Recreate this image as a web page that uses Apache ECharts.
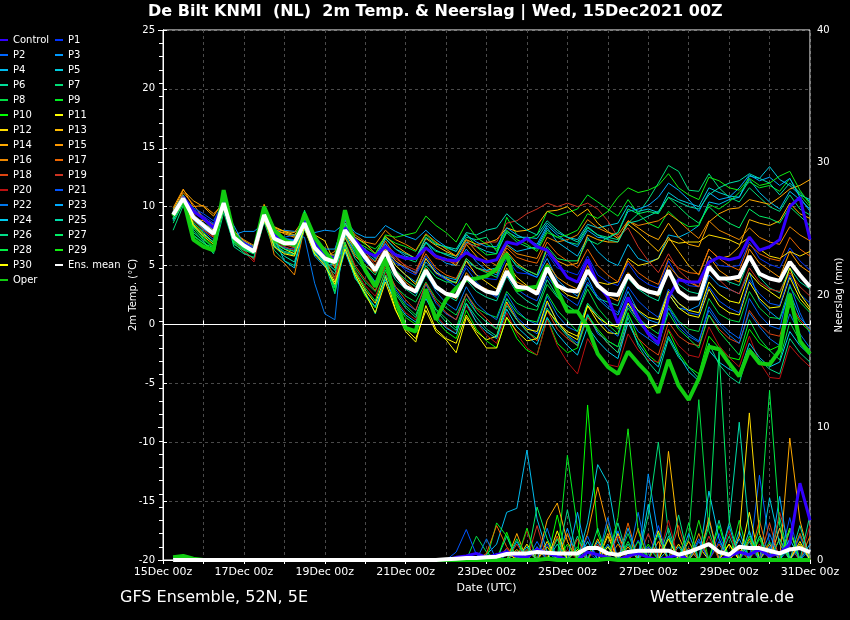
<!DOCTYPE html>
<html><head><meta charset="utf-8">
<script src="https://cdn.jsdelivr.net/npm/echarts/dist/echarts.min.js"></script>
<style>html,body{margin:0;padding:0;background:#000;}#c{width:850px;height:620px;}</style>
</head><body><div id="c"></div>
<script>
// ---- time steps (hours after 15Dec2021 00Z) and tick labels ----
const hours = [6,12,18,24,30,36,42,48,54,60,66,72,78,84,90,96,102,108,114,120,126,132,138,144,150,156,162,168,174,180,186,192,198,204,210,216,222,228,234,240,246,252,258,264,270,276,282,288,294,300,306,312,318,324,330,336,342,348,354,360,366,372,378,384];
const xTickLabels = ['15Dec 00z','17Dec 00z','19Dec 00z','21Dec 00z','23Dec 00z','25Dec 00z','27Dec 00z','29Dec 00z','31Dec 00z'];

// ---- 2m temperature (°C) ----
const tMean = [9.3,10.7,9.1,8.4,7.7,10.3,7.4,6.7,6.2,9.3,7.3,6.9,6.9,8.6,6.5,5.6, 5.3,8.0,6.9,5.7,4.6,6.2,4.3,3.2,2.8,4.6,3.2,2.6,2.4,4.05,3.3,2.8, 2.6,4.5,3.2,3.1,2.6,4.8,3.3,2.9,2.8,4.6,3.3,2.6,2.5,4.2,3.2,2.8, 2.6,4.6,2.8,2.2,2.2,4.9,3.9,3.9,4.05,5.8,4.3,3.9,3.7,5.3,4.2,3.2];
const tOper = [9.2,10.7,7.2,6.6,6.3,11.4,7.7,6.7,6.2,10.0,8.0,7.2,6.7,9.4,7.4,6.2, 5.2,9.7,6.6,4.6,3.2,5.6,2.0,-0.3,-0.6,3.0,0.4,2.1,3.1,3.8,3.9,4.1, 4.7,6.0,2.9,3.1,3.2,5.0,2.9,1.1,1.1,-0.2,-2.5,-3.6,-4.2,-2.3,-3.3,-4.2, -5.8,-3.0,-5.2,-6.4,-4.6,-1.9,-2.1,-3.3,-4.4,-2.2,-3.3,-3.4,-2.2,2.6,-1.4,-2.5];
const tControl = [9.3,10.8,9.6,9.0,8.2,10.4,7.6,6.9,6.3,9.4,7.6,7.0,6.8,8.8,7.0,6.0, 5.6,8.2,7.2,6.2,5.8,6.6,5.9,5.6,5.6,6.5,5.8,5.5,5.4,6.1,5.6,5.3, 5.5,7.0,6.8,7.3,6.6,6.3,5.2,4.0,3.6,5.5,3.4,2.3,0.1,2.3,0.6,-0.8, -1.6,2.3,3.8,3.6,3.6,5.3,5.7,5.5,5.7,7.4,6.3,6.6,7.2,10.0,10.8,7.2];
const tP1 = [9.6,10.9,9.8,9.2,8.6,10.4,7.8,6.9,6.3,9.1,7.8,7.2,6.9,8.4,6.8,6.0, 5.8,8.4,7.2,6.4,5.6,6.9,5.4,4.6,4.2,5.6,4.3,3.8,3.6,5.0,4.2,3.9, 3.8,5.6,4.4,4.3,4.0,6.0,4.8,4.5,4.2,5.8,4.2,3.6,3.3,5.2,4.0,3.4, 3.1,5.4,3.9,3.3,3.2,5.8,5.0,4.9,5.0,7.0,5.6,5.1,4.8,6.5,5.4,4.6];
const tP2 = [9.0,10.5,8.6,7.9,7.2,10.1,7.0,6.5,6.0,9.0,7.0,6.5,6.4,8.9,6.2,5.4, 4.6,7.6,6.0,4.8,3.6,5.2,3.0,1.8,1.2,3.4,1.8,0.9,0.4,2.6,1.0,0.2, -0.3,2.2,0.6,-0.2,-0.8,1.8,0.3,-0.9,-1.6,0.9,-0.8,-1.4,-1.9,0.8,-0.6,-1.2, -1.8,1.4,-0.2,-1.0,-1.5,1.5,0.2,-0.6,-1.2,2.2,0.8,-0.1,-0.4,3.4,1.0,-0.8];
const tP3 = [9.4,10.8,9.5,9.0,8.5,9.8,7.6,7.9,7.9,8.6,7.9,8.0,7.9,8.0,7.8,8.0, 7.9,8.6,7.0,6.3,5.8,7.3,6.4,5.8,5.5,7.0,5.8,5.2,5.0,6.4,5.3,4.6, 4.2,6.1,4.9,4.4,4.0,5.6,3.8,3.0,2.4,4.0,2.2,1.4,0.8,2.8,1.1,0.4, 0.1,2.6,1.4,1.2,1.6,4.2,3.3,3.0,2.6,4.4,2.0,1.1,0.4,2.7,0.6,-0.4];
const tP4 = [8.8,10.4,9.2,8.2,7.5,10.6,7.6,6.8,6.1,9.5,7.4,6.6,6.2,8.2,5.8,4.9, 5.2,8.2,6.6,5.5,4.8,6.6,5.0,4.2,3.6,5.3,4.4,4.0,3.8,5.4,4.8,4.6, 4.8,6.8,6.2,6.4,6.6,8.2,7.0,6.4,5.8,7.4,6.2,5.4,5.0,6.8,5.6,5.3, 5.6,7.6,7.4,7.8,8.4,10.4,10.2,10.6,10.8,12.3,11.2,10.4,9.8,11.3,10.6,9.8];
const tP5 = [9.8,11.0,9.6,8.9,8.0,10.0,7.2,6.4,6.0,9.0,7.9,7.0,6.6,8.8,6.4,5.9, 5.6,8.2,6.9,6.1,5.4,6.8,6.0,5.7,5.6,7.0,6.3,5.9,5.6,7.0,6.6,6.2, 6.0,7.9,7.4,7.4,7.3,8.6,7.8,7.4,7.2,8.5,8.2,8.4,8.6,10.1,9.6,9.8, 9.5,11.2,10.6,10.3,10.0,11.6,11.2,10.9,10.8,12.6,12.4,13.4,12.3,11.8,11.0,10.6];
const tP6 = [9.1,10.6,8.2,7.3,6.4,9.9,7.1,6.5,6.3,9.8,6.8,6.2,6.0,9.0,6.0,5.2, 4.3,7.4,5.6,4.5,3.6,5.4,3.8,3.0,2.4,4.2,3.0,2.5,2.0,3.8,2.8,2.3, 2.0,4.1,2.7,2.0,1.5,3.8,2.4,1.6,1.0,3.4,2.2,1.9,1.6,3.9,3.0,2.4, 2.0,4.6,3.4,2.8,2.6,5.1,4.1,3.6,3.3,5.6,4.0,3.1,2.7,4.8,3.6,3.0];
const tP7 = [8.0,10.1,7.8,7.1,6.0,9.5,6.9,6.1,5.6,8.7,6.3,5.4,5.0,8.3,5.9,5.5, 5.0,8.2,6.4,5.6,5.0,6.6,5.8,5.6,5.3,6.9,6.2,6.0,5.8,7.4,7.2,7.4, 6.2,7.8,7.0,6.6,6.4,8.0,7.4,7.0,6.8,8.2,7.6,7.4,7.2,8.6,9.4,10.6, 12.0,13.5,13.0,11.4,11.3,12.8,11.6,10.8,10.4,11.6,10.8,10.0,9.6,11.0,9.8,9.3];
const tP8 = [9.5,10.9,9.0,8.3,7.6,10.8,7.5,6.7,6.4,9.6,7.6,7.2,7.0,9.2,6.9,5.8, 3.8,6.9,4.8,3.6,2.8,4.8,3.2,2.4,1.9,3.6,2.2,1.4,0.8,2.6,1.4,0.9, 0.6,2.8,1.8,1.4,1.2,3.4,2.3,1.6,1.0,3.0,1.4,0.4,-0.4,1.8,0.6,-0.2, -0.8,1.6,0.3,-0.4,-0.6,2.2,0.9,0.4,0.2,2.8,1.4,0.6,0.5,3.2,1.9,1.0];
const tP9 = [9.2,10.8,8.7,7.8,6.9,11.0,7.2,6.6,6.2,9.9,7.4,7.0,7.2,9.5,6.6,5.3, 5.4,9.0,7.4,6.8,6.4,7.4,6.9,6.6,6.2,7.6,6.9,6.5,6.2,7.7,6.6,5.9, 6.0,9.1,7.6,7.2,7.6,9.6,9.2,9.5,9.8,11.0,10.4,9.8,9.2,10.6,9.4,8.6, 8.2,9.6,8.8,8.3,8.4,10.2,9.8,10.4,11.2,12.1,11.6,11.8,11.3,12.4,11.0,10.0];
const tP10 = [9.0,10.6,8.4,7.4,6.6,10.7,7.3,6.6,6.3,9.4,7.1,6.7,6.8,9.6,7.0,5.6, 2.8,6.8,4.2,2.4,1.4,4.0,1.8,0.6,0.0,2.4,0.4,-0.6,-1.2,1.2,-0.4,-1.4, -2.0,0.6,-1.2,-2.2,-2.6,0.5,-1.6,-2.4,-2.0,0.8,-0.4,-1.4,-1.9,1.0,-1.2,-2.6, -3.3,-0.5,-2.4,-3.6,-4.2,-1.0,-2.0,-2.8,-3.0,-0.4,-1.6,-2.2,-1.8,1.6,0.2,-0.6];
const tP11 = [9.6,10.9,8.5,7.7,7.0,9.8,7.7,7.0,6.6,8.8,7.0,6.4,6.0,8.1,6.0,5.2, 3.6,6.8,4.4,2.9,1.8,4.1,1.3,-0.6,-1.5,1.6,-0.4,-1.2,-1.6,0.8,-0.6,-1.3, -1.0,1.9,0.4,-0.4,-0.6,2.0,0.2,-0.8,-1.3,1.6,0.2,-0.7,-0.8,1.8,0.4,-0.3, 0.0,2.6,1.4,0.8,0.6,3.0,1.6,1.0,0.8,3.6,2.2,1.4,1.5,4.0,2.2,1.2];
const tP12 = [9.3,10.4,9.3,8.6,8.0,10.2,7.9,7.1,6.6,9.0,8.3,7.9,7.6,8.7,7.6,7.1, 5.2,7.8,6.3,5.6,4.8,6.4,5.0,4.2,3.4,5.6,4.4,3.9,3.5,5.4,4.2,3.6, 3.0,5.2,4.0,3.3,2.8,4.6,3.2,2.5,2.2,4.4,3.6,3.4,3.6,5.6,5.0,5.2, 5.6,7.2,6.9,7.0,7.0,7.6,7.4,7.2,6.8,7.4,6.4,5.8,5.6,6.2,5.8,6.2];
const tP13 = [9.0,10.3,9.0,8.8,8.3,9.9,7.3,6.6,6.2,8.9,7.9,7.8,7.5,8.9,6.8,5.9, 5.9,8.6,7.4,6.9,6.0,7.5,6.7,6.1,5.6,7.3,6.7,6.2,5.8,7.2,6.8,6.9, 7.2,8.2,7.9,8.0,8.4,9.6,9.7,10.0,9.2,9.8,8.6,7.9,7.3,8.5,7.8,7.0, 6.2,7.4,6.2,5.0,4.2,6.4,5.6,5.8,6.6,8.9,8.6,8.4,8.8,10.3,9.4,9.0];
const tP14 = [9.7,11.4,10.5,10.0,9.2,10.5,8.0,7.0,6.5,10.2,8.2,7.9,7.8,9.0,7.0,6.3, 5.5,8.2,6.6,5.8,4.6,6.4,5.4,4.8,4.4,6.5,5.8,5.6,5.0,6.8,5.8,4.9, 4.4,6.2,5.2,4.6,4.2,6.4,5.4,5.0,5.2,7.6,7.2,7.0,7.0,8.8,8.2,7.6, 7.2,8.6,7.4,6.8,6.6,8.7,9.4,9.8,9.9,10.6,10.4,10.2,10.8,11.5,11.8,12.3];
const tP15 = [9.9,11.5,10.0,10.1,9.4,10.2,7.7,6.8,6.3,10.0,8.1,7.7,7.4,8.5,7.1,6.5, 4.8,7.4,5.8,5.0,4.4,5.9,4.6,3.6,2.9,4.8,3.2,2.6,2.2,4.4,3.4,3.0, 2.5,4.8,3.6,3.2,2.8,5.2,4.0,3.4,3.0,5.0,3.4,2.4,2.0,4.4,3.4,2.8, 2.4,5.0,4.0,3.6,3.2,5.8,4.6,4.0,3.6,6.4,5.2,4.6,4.0,6.2,5.0,4.4];
const tP16 = [9.4,11.2,10.2,9.0,8.2,10.6,7.8,7.2,6.7,9.5,5.9,5.2,4.2,8.3,6.6,5.7, 6.2,8.8,7.6,7.0,6.8,8.0,7.2,6.8,6.3,7.7,7.0,6.4,5.8,7.2,6.2,5.5, 5.0,6.7,6.0,5.8,5.6,7.4,7.0,7.2,7.6,8.9,8.2,7.8,7.6,8.8,8.4,8.6, 8.8,9.4,8.8,8.0,7.3,8.8,8.0,7.6,7.2,8.2,7.4,7.0,6.8,8.3,7.6,7.1];
const tP17 = [9.1,10.8,9.7,9.1,8.4,10.0,7.5,6.7,6.1,9.2,7.5,6.9,6.7,8.5,6.9,6.0, 5.0,7.9,6.6,5.9,5.3,7.1,5.8,4.9,4.3,6.0,4.8,4.2,3.9,5.6,4.8,4.5, 4.6,6.5,5.7,5.4,5.2,7.0,6.0,5.4,4.8,6.4,5.0,4.2,3.6,5.4,4.4,3.8, 3.4,5.6,4.8,4.4,4.3,6.4,5.6,5.0,4.6,6.8,6.0,5.6,5.4,7.4,6.4,5.8];
const tP18 = [9.2,10.5,8.9,8.0,7.4,10.3,7.3,6.6,6.0,9.3,7.2,6.8,6.5,8.4,6.3,5.5, 4.0,7.0,5.0,3.8,2.9,5.0,3.2,2.1,1.2,3.5,2.0,1.0,0.4,2.6,1.3,0.5, -0.4,1.8,0.4,-0.6,-1.4,1.2,-0.4,-1.2,-1.8,0.6,-0.6,-1.6,-2.4,0.1,-1.2,-2.0, -2.6,0.2,-1.0,-1.6,-1.8,0.8,-0.4,-1.2,-1.6,1.2,0.0,-0.8,-1.0,1.8,0.4,-0.5];
const tP19 = [9.5,10.7,9.4,8.5,7.8,10.1,7.0,6.3,5.5,9.1,7.3,6.9,6.8,8.3,6.5,5.8, 5.5,8.3,7.0,6.2,5.0,6.6,5.6,5.0,4.6,6.4,5.6,5.4,5.2,6.9,6.6,7.0, 7.0,8.6,8.8,9.4,9.8,10.3,10.0,10.3,10.0,10.3,9.8,8.8,7.4,8.2,6.6,5.4, 4.4,6.0,4.6,3.8,3.2,5.2,3.8,3.0,2.6,4.8,3.6,3.0,2.8,4.4,3.2,2.4];
const tP20 = [9.3,10.6,8.8,8.1,7.5,10.2,7.2,6.2,5.3,9.2,7.0,6.6,6.3,8.2,6.1,5.1, 3.8,6.6,4.6,3.3,2.4,4.4,2.2,1.0,0.4,2.6,0.8,-0.2,-0.8,1.6,0.2,-0.9, -1.6,1.0,-0.8,-2.0,-2.6,0.4,-1.8,-3.2,-4.2,-1.2,-2.6,-3.4,-3.6,-0.8,-2.2,-3.0, -3.2,-0.4,-1.8,-2.6,-2.8,-0.2,-1.8,-2.8,-3.6,-1.0,-3.2,-4.5,-4.6,-1.8,-2.8,-3.6];
const tP21 = [9.6,10.9,9.9,9.4,8.8,10.5,7.8,7.0,6.6,9.4,7.7,7.3,7.2,8.6,6.7,5.9, 5.1,7.6,6.2,5.3,4.6,6.2,5.2,4.8,4.4,5.8,4.6,3.8,3.2,4.8,3.6,2.8, 2.3,4.2,3.0,2.4,2.0,4.1,2.9,2.2,1.6,3.6,2.4,1.6,1.0,3.2,2.0,1.2, 0.6,3.0,1.8,1.0,0.8,3.2,2.0,1.4,1.0,3.8,2.6,1.8,1.6,4.2,2.6,1.8];
const tP22 = [9.4,10.7,9.3,8.6,7.9,10.4,7.6,6.9,6.5,9.3,7.6,7.4,7.6,7.4,3.5,0.9, 0.4,9.0,6.6,5.4,4.5,6.0,4.4,3.4,2.6,4.4,2.8,1.8,1.2,3.2,1.8,1.0, 0.4,2.6,1.2,0.4,0.0,2.4,0.8,-0.2,-0.6,1.8,0.6,-0.4,-1.0,1.6,0.4,-0.6, -1.2,1.4,0.2,-0.8,-1.4,1.2,0.0,-0.9,-1.6,1.0,-0.2,-1.2,-1.8,0.9,-0.8,-2.0];
const tP23 = [9.5,10.8,9.0,8.3,7.8,10.0,8.4,6.8,6.4,9.4,7.6,7.3,7.1,8.0,7.1,6.4, 6.4,8.9,7.8,7.4,7.4,8.4,7.9,7.5,7.2,8.0,7.2,6.6,6.2,7.6,7.0,6.6, 6.6,8.2,7.6,7.2,6.8,8.4,7.6,7.0,6.6,8.0,7.4,7.3,7.8,9.6,9.8,10.1, 10.8,12.0,11.4,10.6,9.6,11.2,10.6,10.8,11.6,12.7,12.2,12.5,11.8,12.4,10.8,9.6];
const tP24 = [9.0,10.6,8.9,8.1,7.6,10.4,7.2,6.5,6.0,9.5,7.4,5.4,4.8,8.9,6.5,5.3, 3.2,6.2,4.0,2.6,1.5,3.8,2.0,0.8,0.2,2.2,0.6,-0.3,-0.8,1.8,0.2,-0.6, -1.2,1.3,-0.2,-1.0,-1.7,0.6,-0.8,-1.8,-2.6,-0.2,-1.4,-2.3,-2.9,0.2,-1.6,-2.8, -3.6,-1.0,-2.6,-4.0,-4.8,-2.2,-3.2,-3.8,-4.2,-1.6,-2.8,-3.6,-3.2,-0.6,-1.8,-2.6];
const tP25 = [8.9,10.5,8.3,7.6,7.0,9.8,7.6,6.9,6.4,9.0,6.6,5.8,5.3,8.1,6.2,5.0, 5.7,8.6,7.2,6.4,5.6,7.3,6.4,6.0,5.6,7.4,6.8,6.6,6.4,7.8,7.6,8.0, 8.2,9.4,8.6,8.0,7.6,8.8,8.0,7.4,7.0,8.3,7.6,7.2,7.0,8.6,8.8,9.2, 9.6,10.8,10.4,10.0,9.8,11.0,11.6,12.0,12.2,12.8,12.4,12.0,11.0,12.0,11.2,10.4];
const tP26 = [9.1,10.7,8.0,7.0,6.2,10.1,6.6,6.0,5.7,9.6,6.7,6.1,5.9,8.8,6.1,5.2, 2.6,6.6,3.9,2.8,0.9,4.2,2.6,1.4,0.6,2.8,1.2,0.2,-0.5,1.8,0.6,-0.4, -1.0,1.6,0.4,-0.6,-1.2,1.4,0.0,-1.0,-1.8,0.8,-0.6,-1.6,-2.4,0.6,-1.8,-3.2, -4.2,-1.2,-2.8,-3.6,-4.6,-1.6,-3.4,-4.4,-5.0,-2.0,-3.0,-3.8,-4.2,-1.2,-2.4,-3.2];
const tP27 = [8.6,10.3,7.6,6.9,6.3,10.6,6.8,6.3,6.0,9.8,6.9,6.4,6.2,9.7,6.6,5.4, 4.6,7.6,6.0,5.0,4.2,5.8,4.6,3.8,3.2,5.0,4.0,3.6,3.6,5.6,4.8,4.4, 4.0,6.0,5.0,4.6,4.2,6.6,5.6,5.4,5.4,7.2,6.8,7.4,7.8,9.8,9.4,9.6, 9.4,10.8,10.0,9.2,8.6,10.0,9.2,8.6,8.2,9.8,9.2,9.0,8.6,10.0,9.2,8.4];
const tP28 = [9.0,10.6,7.5,6.9,6.5,10.9,7.0,6.4,6.1,9.9,7.2,6.8,6.9,9.6,6.8,5.7, 3.1,7.0,4.5,3.1,2.0,4.6,2.8,1.6,0.8,3.0,1.3,0.5,-0.3,2.2,1.0,0.2, -0.4,2.2,1.0,0.4,0.2,2.6,1.2,0.3,-0.6,1.8,0.8,0.0,-0.8,1.4,0.2,-0.8, -1.6,1.0,-0.4,-1.2,-2.0,0.8,-0.6,-1.6,-2.6,0.4,-1.2,-2.2,-3.0,0.2,-1.4,-2.2];
const tP29 = [9.3,10.8,8.2,7.2,6.6,11.2,7.1,6.5,6.2,9.7,7.0,6.8,7.0,9.4,6.4,5.5, 5.3,8.5,7.0,6.6,6.0,7.6,7.4,7.6,7.8,9.2,8.4,7.8,7.0,8.6,7.4,6.8, 6.4,8.0,7.2,6.8,6.2,7.8,7.4,7.6,8.0,9.4,9.0,9.6,10.8,11.6,11.2,11.4, 11.8,12.8,11.6,11.0,10.6,12.5,12.2,11.6,11.4,12.4,11.8,12.0,12.6,13.0,11.4,10.2];
const tP30 = [9.5,10.9,8.4,7.5,6.8,10.0,7.5,6.8,6.4,9.0,6.6,6.0,5.8,8.2,6.0,5.0, 3.4,6.4,4.2,2.6,1.0,3.6,1.2,-0.4,-1.2,1.2,-0.6,-1.3,-2.4,0.6,-0.8,-2.0, -2.0,0.6,-0.6,-1.4,-1.2,1.2,0.2,-0.6,-1.0,1.6,0.6,0.0,-0.2,2.2,1.2,0.6, 0.4,2.8,1.8,1.2,1.0,3.6,2.6,2.0,1.8,4.4,3.4,2.8,2.2,4.8,2.6,1.4];

// ---- precipitation (mm per 6h) ----
const pMean = [0,0,0,0,0,0,0,0,0,0,0,0,0,0,0,0, 0,0,0,0,0,0,0,0,0,0,0,0.05,0.1,0.15,0.15,0.2, 0.25,0.45,0.5,0.5,0.6,0.55,0.5,0.5,0.5,0.9,0.9,0.5,0.4,0.6,0.7,0.7, 0.7,0.7,0.4,0.6,0.9,1.2,0.6,0.4,1.0,0.9,0.9,0.7,0.5,0.8,0.9,0.6];
const pOper = [0.2,0.3,0.1,0,0,0,0,0,0,0,0,0,0,0,0,0, 0,0,0,0,0,0,0,0,0,0,0,0,0,0,0,0, 0,0,0,0,0,0.1,0,0,0,0,0,0.1,0,0,0,0, 0,0,0,0,0,0,0,0,0,0,0,0,0,0,0,0];
const pControl = [0.1,0,0,0,0,0,0,0,0,0,0,0,0,0,0,0, 0,0,0,0,0,0,0,0,0,0,0,0,0.2,0.3,0.5,0.2, 0.4,0.6,0.3,0.2,0.8,0.5,0.3,0,0,0.6,0.4,0.2,0,0.3,0.5,0.2, 0,0.2,0.4,0,0,0,0,0.3,0.6,0.4,0.8,0.3,0.5,1.2,5.8,3.0];
const pP1 = [0,0,0,0,0,0,0,0,0,0,0,0,0,0,0,0, 0,0,0,0,0,0,0,0,0,0,0,0,0,0.3,0,0, 0,0.8,0,0,0,1.2,0,0,0,0.6,0,0,0,0,1.5,0, 0,0,0,0.8,0,0,2.0,0,0,1.0,0,0,2.4,0,0,0];
const pP2 = [0,0,0,0,0,0,0,0,0,0,0,0,0,0,0,0, 0,0,0,0,0,0,0,0,0,0,0,0,0,0,0,0, 0.5,0,0,0,1.4,0,0,0,0.8,0,0,0,2.2,0,0,1.0, 0,0,0,0,1.6,0,0,0,0,0,6.4,1.2,0,0,1.8,0];
const pP3 = [0,0,0,0,0,0,0,0,0,0,0,0,0,0,0,0, 0,0,0,0,0,0,0,0,0,0,0,0,0,0,0,0, 0,0,0.6,0,0,0,0,2.4,0,0,0,1.2,0,0,0,6.5, 1.8,0,0,0,0,0,0,2.6,0,0,0,1.0,0,0,0,0.8];
const pP4 = [0,0,0,0,0,0,0,0,0,0,0,0,0,0,0,0, 0,0,0,0,0,0,0,0,0,0,0,0,0,0,0,0.4, 1.2,3.6,3.9,8.3,3.1,0.6,0,0,0,0,1.4,0,0,0,0,0, 0,0.8,0,0,0,0,0,0,2.2,0,0,0,0,1.0,0,0];
const pP5 = [0,0,0,0,0,0,0,0,0,0,0,0,0,0,0,0, 0,0,0,0,0,0,0,0,0,0,0,0,0,0,0,0, 0,0,0,0,0,0,1.6,0,0,2.8,7.2,5.8,1.4,0,0,0, 0,0,1.0,0,0,3.0,0,0,0,0,0,4.7,1.2,0,0,0];
const pP6 = [0,0,0,0,0,0,0,0,0,0,0,0,0,0,0,0, 0,0,0,0,0,0,0,0,0,0,0,0,0,0,0,0, 0,0,0,0.7,0,0,0,0,1.8,0,0,0,0,1.2,0,0, 0,2.4,0,0,0,0,3.0,0,0,1.4,0,0,0,2.2,0,0];
const pP7 = [0,0,0,0,0,0,0,0,0,0,0,0,0,0,0,0, 0,0,0,0,0,0,0,0,0,0,0,0,0,0,0,0, 0,0,0,0,1.0,0,0,0,0,0,0,2.6,0,0,0,3.4, 8.9,2.0,0,0,0,0,0,1.8,0,0,0,0,3.2,0,0,0];
const pP8 = [0,0,0,0,0,0,0,0,0,0,0,0,0,0,0,0, 0,0,0,0,0,0,0,0,0,0,0,0,0,0,1.8,0.6, 0,0,0,0,0,0,1.6,0,0,0,0,0,0,2.0,0,0, 0,0,0,1.6,12.1,2.2,0,0,0,0,0,1.4,0,0,0,0];
const pP9 = [0,0,0,0,0,0,0,0,0,0,0,0,0,0,0,0, 0,0,0,0,0,0,0,0,0,0,0,0,0,0,0,0, 2.8,1.8,0,0,0,1.0,0,7.9,2.4,0,0,0,0,0,1.4,0, 0,0,0,0,0,0,0,0,3.0,0,0,0,0,0,2.0,0];
const pP10 = [0.2,0.1,0,0,0,0,0,0,0,0,0,0,0,0,0,0, 0,0,0,0,0,0,0,0,0,0,0,0,0,0,0,0, 0,2.1,0,0,0,0,3.4,0,0,11.7,2.0,0,0,0,0,1.2, 0,0,0,0,0,0,2.6,0,0,0,1.6,0,0,0,0,0];
const pP11 = [0,0,0,0,0,0,0,0,0,0,0,0,0,0,0,0, 0,0,0,0,0,0,0,0,0,0,0,0,0,0,0,0, 0,0,0,1.2,0,0,0,0,0.8,0,0,1.8,0,0,0,0, 2.2,0,0,0,1.0,0,0,0,0,3.6,0,0,0,2.4,0,0];
const pP12 = [0,0,0,0,0,0,0,0,0,0,0,0,0,0,0,0, 0,0,0,0,0,0,0,0,0,0,0,0,0,0,0,0, 0,0,0.8,0,0,1.4,0,0,0,0,0,0,2.0,0,0,0, 0,0,1.2,0,0,0,0,0,1.8,11.1,2.0,0,0,0,1.2,0];
const pP13 = [0,0,0,0,0,0,0,0,0,0,0,0,0,0,0,0, 0,0,0,0,0,0,0,0,0,0,0,0,0,0,0,0, 0,0,0,0,0.9,0,0,0,0,0,1.6,0,0,1.0,0,0, 0,8.2,1.8,0,0,0,0,1.2,0,0,0,0,2.4,0,0,0];
const pP14 = [0,0,0,0,0,0,0,0,0,0,0,0,0,0,0,0, 0,0,0,0,0,0,0,0,0,0,0,0,0,0,0,0, 0,0,2.0,0,0,3.0,4.3,1.4,0,0,0,2.0,0,0,0,0, 0,0,0,1.4,0,0,0,0,0,0,0,1.2,0,9.2,3.0,0];
const pP15 = [0,0,0,0,0,0,0,0,0,0,0,0,0,0,0,0, 0,0,0,0,0,0,0,0,0,0,0,0,0,0,0,0, 0,0,0,0,0,1.0,0,0,0,2.0,5.5,2.4,0,0,0,0, 1.4,0,0,0,0,3.2,0,0,0.8,0,0,0,1.6,0,0,0];
const pP16 = [0,0,0,0,0,0,0,0,0,0,0,0,0,0,0,0, 0,0,0,0,0,0,0,0,0,0,0,0,0,0,0,0, 0,0,0,0.8,0,0,0,2.0,0,0,0,0,1.2,0,2.4,0, 0,0,0,0,2.0,0,0,0,0,1.6,0,0,0,0,0,1.8];
const pP17 = [0,0,0,0,0,0,0,0,0,0,0,0,0,0,0,0, 0,0,0,0,0,0,0,0,0,0,0,0,0,0,0,0.5, 2.6,1.0,0,0,0,0,1.8,0,0,0,0,0,0,2.8,0,0, 0,0,0,0.9,0,0,0,0,0,0,3.0,0,0,0,0,0];
const pP18 = [0,0,0,0,0,0,0,0,0,0,0,0,0,0,0,0, 0,0,0,0,0,0,0,0,0,0,0,0,0,0,0,0, 0,0,1.2,0,0,0,0,0,1.6,0,0,0,0,0,0.8,0, 0,0,2.6,0,0,0,1.2,0,0,0,0,2.8,0,0,2.0,0];
const pP19 = [0,0,0,0,0,0,0,0,0,0,0,0,0,0,0,0, 0,0,0,0,0,0,0,0,0,0,0,0,0,0,0,0, 0,0.9,0,0,2.6,0,0,0,0,0,1.2,0,0,0,0,2.0, 0,0,0,0,0,1.8,0,0,0,0,0,0,3.6,1.0,0,0];
const pP20 = [0,0,0,0,0,0,0,0,0,0,0,0,0,0,0,0, 0,0,0,0,0,0,0,0,0,0,0,0,0,0,0,0, 0,0,0,2.2,0,0,0,0.8,0,0,0,0,1.8,0,0,0, 0,3.0,0,0,0,0,0,2.2,0,0,1.2,0,0,0,0,2.6];
const pP21 = [0,0,0,0,0,0,0,0,0,0,0,0,0,0,0,0, 0,0,0,0,0,0,0,0,0,0,0,0,0.6,2.3,0.4,0, 0,0,0,0,1.0,0,0,0,0,1.8,0,0,0,0,0,0, 2.6,0,0,0,0,0,1.4,0,0,0,0,0,0,3.2,0,0];
const pP22 = [0,0,0,0,0,0,0,0,0,0,0,0,0,0,0,0, 0,0,0,0,0,0,0,0,0,0,0,0,0,0,0,1.6, 0,0,0,0,0,2.4,0,0,0,0,0,3.2,0,0,3.6,0, 0,0,0,0,1.4,0,0,0,0,0,0,2.0,0,0,1.0,0];
const pP23 = [0,0,0,0,0,0,0,0,0,0,0,0,0,0,0,0, 0,0,0,0,0,0,0,0,0,0,0,0,0,0,0,0, 0,0,1.4,0,0,0,0,0,3.6,0,0,0,0,2.4,0,0, 0,0,0,2.0,0,0,0,0,1.6,0,0,0,4.8,0,0,1.2];
const pP24 = [0,0,0,0,0,0,0,0,0,0,0,0,0,0,0,0, 0,0,0,0,0,0,0,0,0,0,0,0,0,0,0,0, 0,0,0,1.0,0,0,0,0,0,1.4,0,0,0,0,0,4.2, 0,0,0,0,0,5.2,1.6,0,0,2.2,0,0,0,1.6,0,0];
const pP25 = [0,0,0,0,0,0,0,0,0,0,0,0,0,0,0,0, 0,0,0,0,0,0,0,0,0,0,0,0,0,0,0,0, 0,0,0,0,0,0,1.2,0,0,0,0,1.0,0,0,0,0, 0,1.8,0,0,0,0,0,2.8,10.4,2.0,0,0,0,0,2.6,0];
const pP26 = [0,0,0,0,0,0,0,0,0,0,0,0,0,0,0,0, 0,0,0,0,0,0,0,0,0,0,0,0,0,0,0,0, 0,1.8,0,0,0,0,0,3.8,0,0,0,0,2.8,0,0,0, 0,0,3.4,0,0,0,0,0,0,0,1.8,0,0,0,0,3.4];
const pP27 = [0,0,0,0,0,0,0,0,0,0,0,0,0,0,0,0, 0,0,0,0,0,0,0,0,0,0,0,0,0,0,0,0, 0,0,0,0,4.0,1.6,0,0,0,0,2.4,0,0,0,0,0, 2.0,0,0,0,0,2.6,15.7,3.0,0,0,0,0,1.6,0,0,0];
const pP28 = [0,0,0,0,0,0,0,0,0,0,0,0,0,0,0,0, 0,0,0,0,0,0,0,0,0,0,0,0,0,0,0,0, 0,0,1.6,0,0,0,0,0,1.0,0,0,0,0,1.4,0,0, 0,0,0,2.8,0,0,0,0,0,0,2.4,12.8,2.6,0,0,0];
const pP29 = [0,0,0,0,0,0,0,0,0,0,0,0,0,0,0,0, 0,0,0,0,0,0,0,0,0,0,0,0,0,0,0,0, 0,0,0,2.4,0,0,0,1.2,0,0,0,0,3.2,9.9,2.2,0, 0,0,0,0,3.0,0,0,0,0,1.8,0,0,0,2.4,0,0];
const pP30 = [0,0,0,0,0,0,0,0,0,0,0,0,0,0,0,0, 0,0,0,0,0,0,0,0,0,0,0,0,0,0,0,0, 0,0.6,0,0,0,0,2.2,0,0,0,0,1.0,0,0,0,0, 0,1.6,0,0,0,0,0,1.2,0,0,0,0,0,0,1.4,0];

// ---- members (names) and their series ----
const memberNames = ['P1','P2','P3','P4','P5','P6','P7','P8','P9','P10','P11','P12','P13','P14','P15','P16','P17','P18','P19','P20','P21','P22','P23','P24','P25','P26','P27','P28','P29','P30'];
const memberTemps = [tP1,tP2,tP3,tP4,tP5,tP6,tP7,tP8,tP9,tP10,tP11,tP12,tP13,tP14,tP15,tP16,tP17,tP18,tP19,tP20,tP21,tP22,tP23,tP24,tP25,tP26,tP27,tP28,tP29,tP30];
const memberPrecip = [pP1,pP2,pP3,pP4,pP5,pP6,pP7,pP8,pP9,pP10,pP11,pP12,pP13,pP14,pP15,pP16,pP17,pP18,pP19,pP20,pP21,pP22,pP23,pP24,pP25,pP26,pP27,pP28,pP29,pP30];

// ---- styles ----
const memberColors = ['#0033ff','#0066ff','#0099ff','#00bbee','#00ccdd','#00dd99','#00dd77','#00dd44','#00ee22','#00ff00','#ffff00','#ffdd00','#ffbb00','#ffaa00','#ff9900','#ee8800','#ee6600','#dd4411','#cc3322','#bb1111','#0055ff','#0077ee','#00aaff','#00ccee','#00ddaa','#00dd88','#00ee66','#00ee44','#11ee11','#ffff00'];
const FONT = 'DejaVu Sans';

function mk(name, data, yIdx, color, width, z) {
  return {
    name: name, type: 'line', yAxisIndex: yIdx, xAxisIndex: 0,
    data: hours.map(function (h, k) { return [h, data[k]]; }),
    showSymbol: false, symbol: 'none', silent: true, animation: false,
    lineStyle: { color: color, width: width }, itemStyle: { color: color },
    emphasis: { disabled: true }, z: z
  };
}

const series = [];
memberNames.forEach(function (n, k) {
  series.push(mk(n, memberTemps[k], 0, memberColors[k], 1, 2));
  series.push(mk(n, memberPrecip[k], 1, memberColors[k], 1, 2));
});
series[0].markLine = { symbol: 'none', silent: true, label: { show: false }, animation: false,
  lineStyle: { color: '#ffffff', width: 1, type: 'solid' }, data: [{ yAxis: 0 }] };
series.push(mk('Control', tControl, 0, '#3300ff', 3, 3));
series.push(mk('Control', pControl, 1, '#3300ff', 3, 3));
series.push(mk('Oper', tOper, 0, '#11cc11', 4, 4));
series.push(mk('Oper', pOper, 1, '#11cc11', 4, 4));
series.push(mk('Ens. mean', tMean, 0, '#ffffff', 4, 5));
series.push(mk('Ens. mean', pMean, 1, '#ffffff', 4, 5));

const legendLeft = ['Control','P2','P4','P6','P8','P10','P12','P14','P16','P18','P20','P22','P24','P26','P28','P30','Oper'];
const legendRight = ['P1','P3','P5','P7','P9','P11','P13','P15','P17','P19','P21','P23','P25','P27','P29','Ens. mean'];
function mkLegend(data, left) {
  return { data: data, orient: 'vertical', left: left, top: 33.5, padding: 0, itemWidth: 8, itemHeight: 2, icon: 'rect',
    itemGap: 2, selectedMode: false,
    textStyle: { color: '#ffffff', fontSize: 10, fontFamily: FONT, lineHeight: 13 } };
}

const axisLbl = { color: '#ffffff', fontFamily: FONT, fontSize: 10 };
const option = {
  backgroundColor: '#000000',
  animation: false,
  textStyle: { fontFamily: FONT },
  title: [
    { text: 'De Bilt KNMI  (NL)  2m Temp. & Neerslag | Wed, 15Dec2021 00Z', left: 148, top: 4, padding: 0,
      textStyle: { color: '#ffffff', fontSize: 16, fontWeight: 'bold', fontFamily: FONT } },
    { text: 'GFS Ensemble, 52N, 5E', left: 120, top: 590, padding: 0,
      textStyle: { color: '#ffffff', fontSize: 16, fontWeight: 'normal', fontFamily: FONT } },
    { text: 'Wetterzentrale.de', left: 650, top: 590, padding: 0,
      textStyle: { color: '#ffffff', fontSize: 16, fontWeight: 'normal', fontFamily: FONT } }
  ],
  legend: [mkLegend(legendLeft, 0), mkLegend(legendRight, 55)],
  grid: { left: 163, right: 40, top: 30, bottom: 60, show: true, borderColor: '#ffffff', borderWidth: 1,
    backgroundColor: 'transparent', containLabel: false, outerBoundsMode: 'none' },
  xAxis: [
    { type: 'value', position: 'bottom', min: 0, max: 384, interval: 24,
      name: 'Date (UTC)', nameLocation: 'middle', nameGap: 23, nameMoveOverlap: false,
      nameTextStyle: { color: '#ffffff', fontSize: 11, fontFamily: FONT },
      axisLine: { lineStyle: { color: '#ffffff' } },
      axisTick: { inside: true, length: 4, lineStyle: { color: '#ffffff' } },
      axisLabel: { color: '#ffffff', fontFamily: FONT, fontSize: 11, margin: 7,
        formatter: function (v) { return v % 48 === 0 ? xTickLabels[v / 48] : ''; } },
      splitLine: { show: true, lineStyle: { color: '#4a4a4a', type: [3, 3] } } },
    { type: 'value', position: 'top', min: 0, max: 384, interval: 24,
      axisLine: { lineStyle: { color: '#ffffff' } },
      axisTick: { inside: true, length: 4, lineStyle: { color: '#ffffff' } },
      axisLabel: { show: false }, splitLine: { show: false } }
  ],
  yAxis: [
    { type: 'value', position: 'left', min: -20, max: 25, interval: 5,
      name: '2m Temp. (°C)', nameLocation: 'middle', nameRotate: 90, nameGap: 25, nameMoveOverlap: false,
      nameTextStyle: { color: '#ffffff', fontSize: 10, fontFamily: FONT },
      axisLine: { show: true, lineStyle: { color: '#ffffff' } },
      axisTick: { show: true, inside: true, length: 4, lineStyle: { color: '#ffffff' } },
      axisLabel: axisLbl,
      splitLine: { show: true, lineStyle: { color: '#4a4a4a', type: [3, 3] } } },
    { type: 'value', position: 'right', min: 0, max: 40, interval: 10,
      name: 'Neerslag (mm)', nameLocation: 'middle', nameRotate: 90, nameGap: 24, nameMoveOverlap: false,
      nameTextStyle: { color: '#ffffff', fontSize: 10, fontFamily: FONT },
      axisLine: { show: true, lineStyle: { color: '#ffffff' } },
      axisTick: { show: true, inside: true, length: 5, lineStyle: { color: '#ffffff' } },
      minorTick: { show: true, splitNumber: 10, length: 4, lineStyle: { color: '#ffffff' } },
      axisLabel: { color: '#ffffff', fontFamily: FONT, fontSize: 10, margin: 7 },
      splitLine: { show: false } }
  ],
  series: series
};

const chart = echarts.init(document.getElementById('c'), null, { renderer: 'canvas', width: 850, height: 620 });
chart.setOption(option);
</script>
</body></html>
